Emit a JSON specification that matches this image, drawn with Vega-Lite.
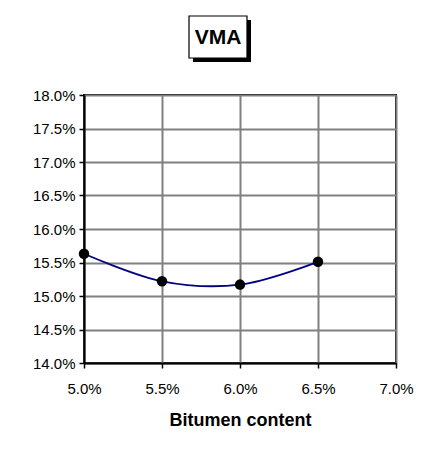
{
  "$schema": "https://vega.github.io/schema/vega-lite/v6.json",
  "background": "white",
  "padding": {"top": 15, "left": 31, "right": 5, "bottom": 5},
  "spacing": 37,
  "bounds": "flush",
  "center": false,
  "config": {"font": "Liberation Sans"},
  "vconcat": [
    {
      "width": 312,
      "height": 42,
      "data": {"values": [{"t": "VMA", "x1": 105, "x2": 163, "xm": 134, "y1": 0, "y2": 42, "ym": 21}]},
      "view": {"stroke": null},
      "layer": [
        {
          "mark": {"type": "rect", "color": "black", "xOffset": 4, "x2Offset": 4, "yOffset": 4, "y2Offset": 4},
          "encoding": {
            "x": {"field": "x1", "type": "quantitative", "scale": {"domain": [0, 312], "nice": false}, "axis": null},
            "x2": {"field": "x2"},
            "y": {"field": "y1", "type": "quantitative", "scale": {"domain": [0, 42], "nice": false}, "axis": null},
            "y2": {"field": "y2"}
          }
        },
        {
          "mark": {"type": "rect", "fill": "white", "stroke": "black", "strokeWidth": 1.2},
          "encoding": {
            "x": {"field": "x1", "type": "quantitative"},
            "x2": {"field": "x2"},
            "y": {"field": "y1", "type": "quantitative"},
            "y2": {"field": "y2"}
          }
        },
        {
          "mark": {"type": "text", "fontSize": 21, "fontWeight": "bold", "color": "black", "dy": 1},
          "encoding": {
            "x": {"field": "xm", "type": "quantitative"},
            "y": {"field": "ym", "type": "quantitative"},
            "text": {"field": "t"}
          }
        }
      ]
    },
    {
      "width": 312,
      "height": 268,
      "view": {"stroke": "black", "strokeWidth": 2},
      "data": {"values": [
        {"bitumen": 0.05, "vma": 0.1563},
        {"bitumen": 0.055, "vma": 0.1522},
        {"bitumen": 0.06, "vma": 0.1517},
        {"bitumen": 0.065, "vma": 0.1551}
      ]},
      "encoding": {
        "x": {
          "field": "bitumen", "type": "quantitative",
          "scale": {"domain": [0.05, 0.07], "nice": false},
          "axis": {
            "title": "Bitumen content", "format": ".1%",
            "values": [0.05, 0.055, 0.06, 0.065, 0.07],
            "labelFlush": false,
            "titleFontSize": 18, "titleFontWeight": "bold", "titleColor": "black", "titlePadding": 15,
            "labelFontSize": 15, "labelColor": "black", "labelPadding": 13,
            "domainColor": "black", "domainWidth": 2,
            "tickColor": "black", "tickWidth": 1.5, "tickSize": 5,
            "gridColor": "#808080", "gridWidth": 2, "gridOpacity": 1
          }
        },
        "y": {
          "field": "vma", "type": "quantitative",
          "scale": {"domain": [0.14, 0.18], "nice": false, "zero": false},
          "axis": {
            "title": null, "format": ".1%",
            "values": [0.14, 0.145, 0.15, 0.155, 0.16, 0.165, 0.17, 0.175, 0.18],
            "labelFlush": false,
            "labelFontSize": 15, "labelColor": "black", "labelPadding": 4,
            "domainColor": "black", "domainWidth": 2,
            "tickColor": "black", "tickWidth": 1.5, "tickSize": 5,
            "gridColor": "#808080", "gridWidth": 2, "gridOpacity": 1
          }
        }
      },
      "layer": [
        {"mark": {"type": "line", "interpolate": "catmull-rom", "color": "#000080", "strokeWidth": 1.8}},
        {"mark": {"type": "point", "filled": true, "color": "black", "opacity": 1, "size": 110}}
      ]
    }
  ]
}
